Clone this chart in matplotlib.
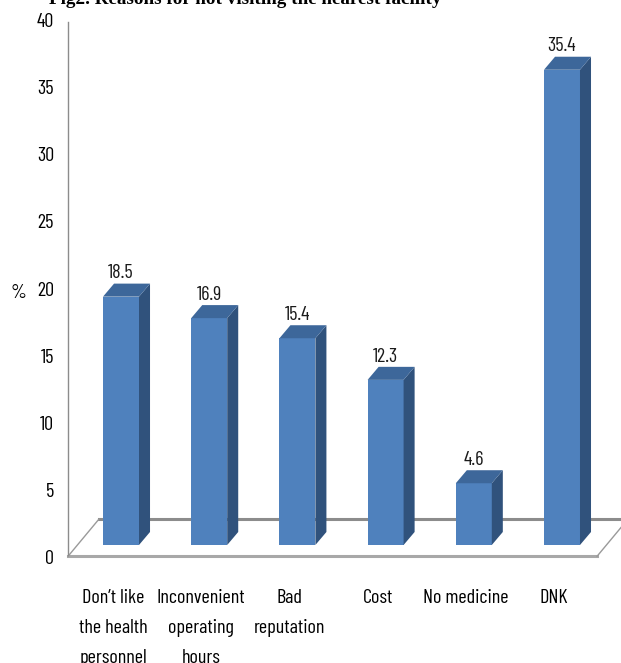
import matplotlib.pyplot as plt
from matplotlib.patches import Polygon
from matplotlib import font_manager as fm
import numpy as np

categories = ["Don\u2019t like\nthe health\npersonnel", "Inconvenient\noperating\nhours",
              "Bad\nreputation", "Cost", "No medicine", "DNK"]
values = [18.5, 16.9, 15.4, 12.3, 4.6, 35.4]
yticks = [0, 5, 10, 15, 20, 25, 30, 35, 40]

# narrow font like the squeezed Calibri of the original, with fallback
installed = {f.name for f in fm.fontManager.ttflist}
if "Barlow Condensed" in installed:
    narrow = ["Barlow Condensed", "DejaVu Sans"]
    fs = 14.5
else:
    narrow = ["Liberation Sans", "DejaVu Sans"]
    fs = 10.5

fig = plt.figure(figsize=(6.21, 6.63), dpi=100)
W, H = 621, 663
ax = fig.add_axes([68 / W, 1 - 557 / H, 553 / W, 537 / H])
ax.patch.set_alpha(0)
ax.set_ylim(0, 40)
ax.set_xlim(-0.601, 5.669)
for s in ax.spines.values():
    s.set_visible(False)

# 3d look offsets (data units)
dx, dy = 0.125, 0.97
base = 0.894
half = 0.204

front_c = "#4F81BD"
side_c = "#30527C"
top_c = "#3D679A"

# floor
fl_front, fl_back = 0.05, 2.83
xl, xr, shift = -0.601, 5.397, 0.352
ax.plot([xl + shift, xr + shift], [fl_back, fl_back], color="#8C8C8C", lw=2.2,
        clip_on=False, zorder=1)
ax.plot([xl, xr], [fl_front, fl_front], color="#A8A8A8", lw=2.2, clip_on=False, zorder=1)
ax.plot([xl, xl + shift], [fl_front, fl_back], color="#9A9A9A", lw=1, clip_on=False, zorder=1)
ax.plot([xr, xr + shift], [fl_front, fl_back], color="#9A9A9A", lw=1, clip_on=False, zorder=1)
# value axis line
ax.plot([xl, xl], [0.15, 39.85], color="#8C8C8C", lw=1, clip_on=False, zorder=1)

x = np.arange(len(values))
for xi, v in zip(x, values):
    l, r = xi - half, xi + half
    b, t = base, base + v
    ax.add_patch(Polygon([(l, b), (r, b), (r, t), (l, t)], closed=True,
                         facecolor=front_c, edgecolor="none", zorder=3))
    ax.add_patch(Polygon([(r, b), (r + dx, b + dy), (r + dx, t + dy), (r, t)], closed=True,
                         facecolor=side_c, edgecolor="none", zorder=3))
    ax.add_patch(Polygon([(l, t), (r, t), (r + dx, t + dy), (l + dx, t + dy)], closed=True,
                         facecolor=top_c, edgecolor="none", zorder=3))
    ax.text(xi, t + dy + 0.1, f"{v}", ha="center", va="bottom", fontsize=fs,
            family=narrow, color="#1a1a1a", zorder=4)

ax.set_yticks(yticks)
ax.set_yticklabels([str(t) for t in yticks], family=narrow, fontsize=fs)
ax.tick_params(axis="y", length=0, pad=10)
ax.set_xticks(x - 0.09)
ax.set_xticklabels(categories, family=narrow, fontsize=fs, linespacing=1.85, va="top")
ax.tick_params(axis="x", length=0, pad=23)

fig.text(18 / W, 1 - 293 / H, "%", family=narrow, fontsize=fs, ha="center", va="center")
fig.text(245 / W, 1 - 3.5 / H, "Fig2. Reasons for not visiting the nearest facility",
         family=["Liberation Serif", "DejaVu Serif"], fontweight="bold", fontsize=13.8,
         ha="center", va="baseline")

fig.savefig("out.png", dpi=100)
